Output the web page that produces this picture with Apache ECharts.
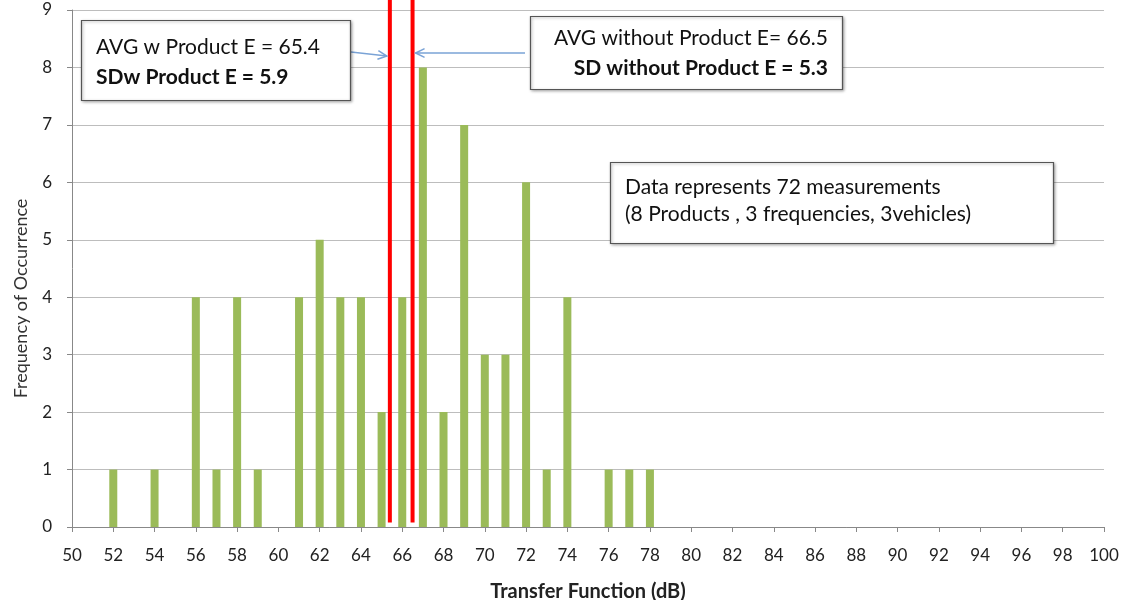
<!DOCTYPE html>
<html>
<head>
<meta charset="utf-8">
<script src="https://cdn.jsdelivr.net/npm/echarts@6/dist/echarts.min.js"></script>
<style>
  html, body { margin: 0; padding: 0; background: #fff; }
  #chart { width: 1122px; height: 600px; }
</style>
</head>
<body>
<div id="chart"></div>
<script>
// Transfer function values (dB) and how often each occurred
const transferDb = [52, 54, 56, 57, 58, 59, 61, 62, 63, 64, 65, 66, 67, 68, 69, 70, 71, 72, 73, 74, 76, 77, 78];
const occurrences = [1, 1, 4, 1, 4, 1, 4, 5, 4, 4, 2, 4, 8, 2, 7, 3, 3, 6, 1, 4, 1, 1, 1];

// Summary statistics
const avgWithE = 65.4;
const sdWithE = 5.9;
const avgWithoutE = 66.5;
const sdWithoutE = 5.3;

const xTickLabels = [];
for (let v = 50; v <= 100; v += 2) xTickLabels.push(v);

const FONT = 'Lato, "Open Sans", sans-serif';
const chart = echarts.init(document.getElementById('chart'), null, { renderer: 'canvas' });

const barData = transferDb.map((x, i) => [x, occurrences[i]]);

function avgLine(x) {
  return {
    type: 'line',
    data: [[x, 0.08], [x, 9.18]],
    symbol: 'none',
    clip: false,
    silent: true,
    lineStyle: { color: '#ff0000', width: 4 },
    z: 5
  };
}

chart.setOption({
  animation: false,
  backgroundColor: '#ffffff',
  grid: { left: 72, right: 18, top: 10, bottom: 73, containLabel: false, outerBoundsMode: 'none' },
  xAxis: {
    type: 'value',
    min: 50, max: 100, interval: 2,
    name: 'Transfer Function (dB)',
    nameLocation: 'middle',
    nameGap: 55,
    nameTextStyle: { fontFamily: FONT, fontSize: 20, fontWeight: 'bold', color: '#222' },
    axisLine: { show: true, lineStyle: { color: '#888888', width: 1 } },
    axisTick: { show: true, inside: false, length: 5, lineStyle: { color: '#888888' } },
    axisLabel: {
      margin: 20, fontFamily: FONT, fontSize: 17, color: '#222',
      formatter: v => (xTickLabels.indexOf(v) >= 0 ? String(v) : '')
    },
    splitLine: { show: false }
  },
  yAxis: {
    type: 'value',
    min: 0, max: 9, interval: 1,
    name: 'Frequency of Occurrence',
    nameLocation: 'middle',
    nameGap: 42,
    nameTextStyle: { fontFamily: FONT, fontSize: 18, color: '#333', padding: [0, 60, 0, 0] },
    axisLine: { show: true, lineStyle: { color: '#888888', width: 1 } },
    axisTick: { show: true, inside: false, length: 5, lineStyle: { color: '#888888' } },
    axisLabel: { margin: 20, fontFamily: FONT, fontSize: 17, color: '#222' },
    splitLine: { show: true, lineStyle: { color: '#bdbdbd', width: 1 } }
  },
  series: [
    {
      type: 'bar',
      data: barData,
      barWidth: 8,
      itemStyle: { color: '#9bbb59' },
      z: 3
    },
    avgLine(avgWithE),
    avgLine(avgWithoutE)
  ]
});

// Annotation boxes and arrows pointing at the average lines
const pxWith = chart.convertToPixel({ gridIndex: 0 }, [avgWithE, 8.3]);
const pxWithout = chart.convertToPixel({ gridIndex: 0 }, [avgWithoutE, 8.3]);

function box(x, y, w, h) {
  return {
    type: 'rect',
    shape: { x: x + 0.5, y: y + 0.5, width: w, height: h },
    style: { fill: '#ffffff', stroke: '#555555', lineWidth: 1.2, shadowBlur: 3, shadowColor: 'rgba(0,0,0,0.35)', shadowOffsetX: 1, shadowOffsetY: 1 },
    z: 20
  };
}
function txt(x, y, s, bold, align) {
  return {
    type: 'text', x: x, y: y, z: 21,
    style: {
      text: s, fill: '#111', font: (bold ? 'bold ' : '') + '21px ' + FONT,
      textAlign: align || 'left', textVerticalAlign: 'middle'
    }
  };
}
function arrow(x1, y1, x2, y2) {
  const ang = Math.atan2(y2 - y1, x2 - x1);
  const L = 10, a = 0.45;
  return [
    { type: 'line', z: 19, shape: { x1, y1, x2, y2 }, style: { stroke: '#7aa3d6', lineWidth: 1.5 } },
    {
      type: 'polyline', z: 19,
      shape: { points: [
        [x2 - L * Math.cos(ang - a), y2 - L * Math.sin(ang - a)],
        [x2, y2],
        [x2 - L * Math.cos(ang + a), y2 - L * Math.sin(ang + a)]
      ] },
      style: { stroke: '#7aa3d6', lineWidth: 1.5, fill: null }
    }
  ];
}

chart.setOption({
  graphic: [
    box(81, 20, 269, 80),
    txt(96, 47, 'AVG w Product E = ' + avgWithE, false),
    txt(96, 77, 'SDw Product E = ' + sdWithE, true),
    box(530, 16, 312, 73),
    txt(828, 38, 'AVG without Product E= ' + avgWithoutE, false, 'right'),
    txt(828, 68, 'SD without Product E = ' + sdWithoutE, true, 'right'),
    box(610, 162, 443, 81),
    txt(625, 187, 'Data represents 72 measurements', false),
    txt(625, 214, '(8 Products , 3 frequencies, 3vehicles)', false),
    ...arrow(351, 52, pxWith[0] - 3, 56),
    ...arrow(525, 53, pxWithout[0] + 3, 53)
  ]
});
</script>
</body>
</html>
